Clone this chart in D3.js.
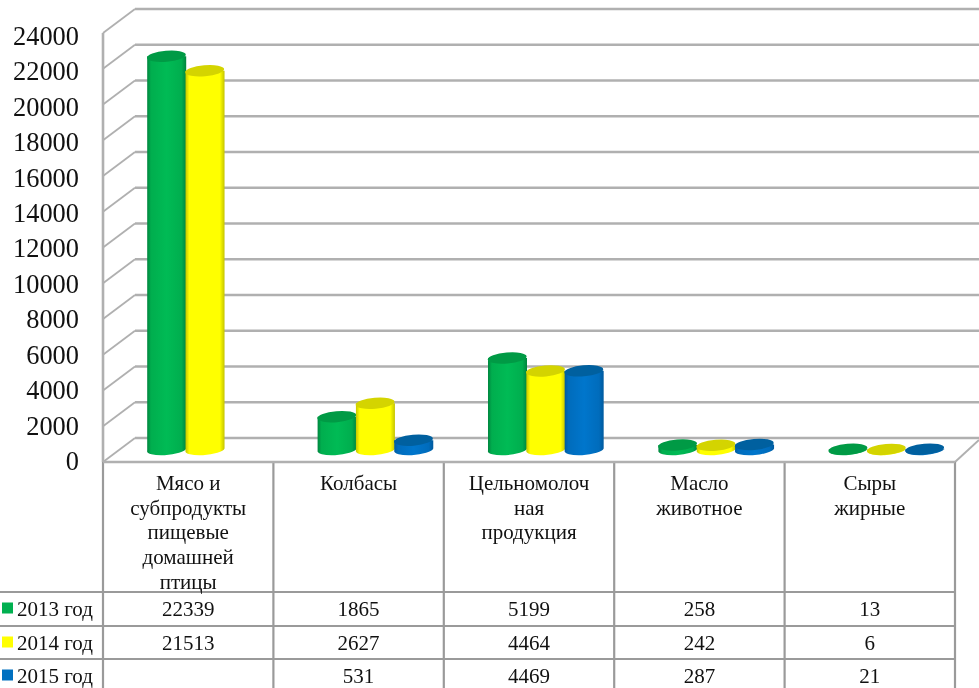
<!DOCTYPE html>
<html><head><meta charset="utf-8">
<script src="https://cdnjs.cloudflare.com/ajax/libs/d3/7.8.5/d3.min.js"></script>
<style>html,body{margin:0;padding:0;background:#fff;overflow:hidden}svg{display:block;filter:blur(.5px)}text{font-family:"Liberation Serif",serif;fill:#111}</style>
</head><body><svg id="c" width="979" height="688"></svg>
<script>
const categories=[["Мясо и","субпродукты","пищевые","домашней","птицы"],["Колбасы"],["Цельномолоч","ная","продукция"],["Масло","животное"],["Сыры","жирные"]];
const seriesNames=["2013 год","2014 год","2015 год"];
const s2013=[22339,1865,5199,258,13];
const s2014=[21513,2627,4464,242,6];
const s2015=[null,531,4469,287,21];
const seriesValues=[s2013,s2014,s2015];
const yTicks=[0,2000,4000,6000,8000,10000,12000,14000,16000,18000,20000,22000,24000];
const seriesColors=[["#00843e","#00bb55","#00ae4e","#009a45"],["#c4c400","#ffff00","#ffff00","#d4d400"],["#005a9e","#0076cc","#006cbc","#00609f"]];

const svg=d3.select("#c"),defs=svg.append("defs");
const W=979,L=103,R=955,T=33,B=462,DX=32,DY=24;
const GRID="#b0b0b0",TBL="#9a9a9a";
const x=d3.scaleBand().domain(d3.range(categories.length)).range([L,R]);
const y=d3.scaleLinear().domain([0,24000]).range([B,T]);
const labelY=d3.scaleLinear().domain([0,24000]).range([461,36]);
const barY=d3.scaleLinear().domain([0,24000]).range([449.5,27]);
const sub=d3.scaleBand().domain(d3.range(3)).range([0,115]);
const barOffset=x.bandwidth()/2+16.5-57.5;

seriesColors.forEach((c,i)=>{
  const g=defs.append("linearGradient").attr("id","g"+i);
  [[0,c[0]],[.1,c[2]],[.5,c[1]],[.88,c[2]],[1,c[0]]].forEach(([o,k])=>g.append("stop").attr("offset",o).attr("stop-color",k));
});

const grid=svg.append("g").attr("fill","none").attr("stroke",GRID);
grid.selectAll("line.back").data(yTicks).join("line").attr("class","back")
 .attr("x1",L+DX).attr("x2",W).attr("y1",d=>y(d)-DY).attr("y2",d=>y(d)-DY).attr("stroke-width",2.6);
grid.selectAll("line.side").data(yTicks).join("line").attr("class","side")
 .attr("x1",L).attr("x2",L+DX).attr("y1",d=>y(d)).attr("y2",d=>y(d)-DY).attr("stroke-width",1.8);
grid.append("line").attr("x1",L).attr("x2",L).attr("y1",T).attr("y2",B).attr("stroke-width",2.6);
grid.append("line").attr("x1",R).attr("x2",W).attr("y1",B).attr("y2",B-22).attr("stroke-width",2);

svg.append("g").selectAll("text").data(yTicks).join("text")
 .attr("x",79).attr("y",d=>labelY(d)).attr("dy","0.34em").attr("text-anchor","end").attr("font-size",26.4).text(d=>d);

const RX=19.5,RY=5.5,TILT=-5;
seriesValues.forEach((vals,si)=>{
  const g=svg.append("g");
  vals.forEach((v,ci)=>{
    if(v==null)return;
    const x0=x(ci)+barOffset+sub(si),cx=x0+sub.bandwidth()/2,y1=barY(v),y0=barY(0);
    const k=g.append("g");
    k.append("path").attr("fill",`url(#g${si})`)
     .attr("d",`M${x0},${y1}L${x0},${y0+1}A${RX},${RY} ${TILT} 0 0 ${x0+2*RX},${y0-1}L${x0+2*RX},${y1}Z`);
    k.append("ellipse").attr("cx",cx).attr("cy",y1).attr("rx",RX).attr("ry",RY)
     .attr("transform",`rotate(${TILT} ${cx} ${y1})`).attr("fill",seriesColors[si][3]);
  });
});

const table=svg.append("g").attr("stroke",TBL).attr("stroke-width",2.2);
table.selectAll("line.v").data(d3.range(categories.length+1)).join("line").attr("class","v")
 .attr("x1",i=>i<5?x(i):R).attr("x2",i=>i<5?x(i):R).attr("y1",B).attr("y2",688);
const rowY=[592,626,659];
table.selectAll("line.h").data(rowY).join("line").attr("class","h")
 .attr("x1",0).attr("x2",R).attr("y1",d=>d).attr("y2",d=>d);
table.append("line").attr("x1",L).attr("x2",R).attr("y1",B).attr("y2",B).attr("stroke",GRID).attr("stroke-width",2.6);

const cx=i=>x(i)+x.bandwidth()/2;
categories.forEach((lines,i)=>{
  svg.append("g").selectAll("text").data(lines).join("text")
   .attr("x",cx(i)).attr("y",(d,j)=>483+j*24.6).attr("dy","0.34em").attr("text-anchor","middle").attr("font-size",21).text(d=>d);
});
seriesNames.forEach((n,si)=>{
  const ym=rowY[si]+16.5;
  svg.append("rect").attr("x",2).attr("y",ym-6).attr("width",11).attr("height",11).attr("fill",["#00b050","#ffff00","#0070c0"][si]);
  svg.append("text").attr("x",17).attr("y",ym).attr("dy","0.34em").attr("font-size",21).text(n);
  seriesValues[si].forEach((v,ci)=>{ if(v!=null)
    svg.append("text").attr("x",cx(ci)).attr("y",ym).attr("dy","0.34em").attr("text-anchor","middle").attr("font-size",21).text(v);});
});
</script></body></html>
